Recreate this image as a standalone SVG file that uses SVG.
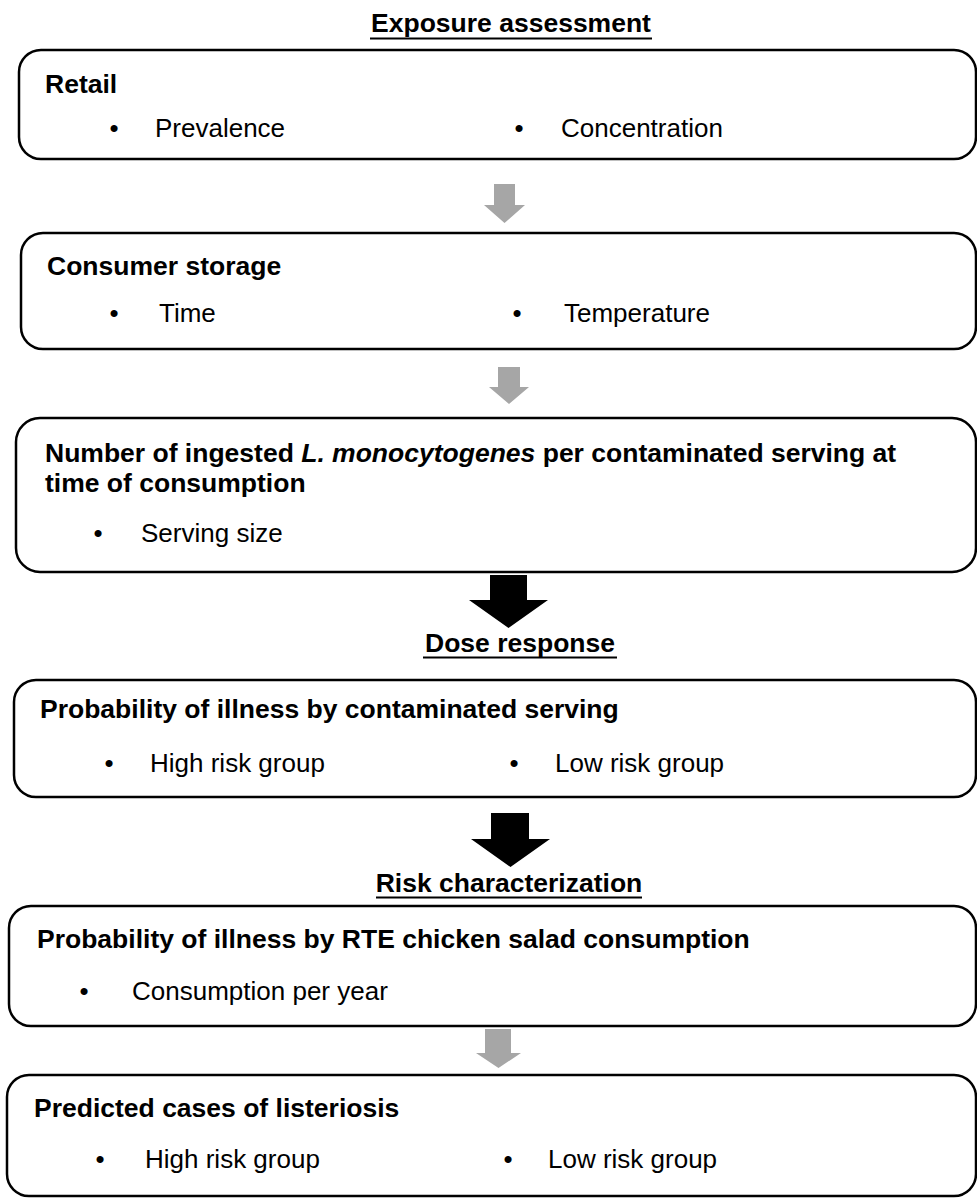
<svg xmlns="http://www.w3.org/2000/svg" width="977" height="1200" viewBox="0 0 977 1200">
<style>
.box{fill:#fff;stroke:#000;stroke-width:2.5}
.t{font-family:"Liberation Sans",Arial,sans-serif;font-size:26px;fill:#000}
.b{font-family:"Liberation Sans",Arial,sans-serif;font-size:26.5px;font-weight:bold;fill:#000}
.h{font-family:"Liberation Sans",Arial,sans-serif;font-size:26.5px;font-weight:bold;fill:#000;text-anchor:middle}
.ul{stroke:#000;stroke-width:2}
.ga{fill:#A6A6A6}
.ka{fill:#000}
</style>
<rect width="977" height="1200" fill="#fff"/>
<g id="headers">
<text class="h" x="511" y="32">Exposure assessment</text>
<line class="ul" x1="370" y1="38.5" x2="652" y2="38.5"/>
<text class="h" x="520" y="652">Dose response</text>
<line class="ul" x1="423" y1="657.5" x2="617" y2="657.5"/>
<text class="h" x="509" y="892">Risk characterization</text>
<line class="ul" x1="376" y1="897.5" x2="642" y2="897.5"/>
</g>
<g id="retail">
<rect class="box" x="19" y="50" width="957" height="109" rx="22"/>
<text class="b" x="45" y="93">Retail</text>
<text class="t" x="109.5" y="137">•</text>
<text class="t" x="155" y="137">Prevalence</text>
<text class="t" x="514.5" y="137">•</text>
<text class="t" x="561" y="137">Concentration</text>
</g>
<g id="consumer-storage">
<rect class="box" x="21" y="233" width="955" height="116" rx="22"/>
<text class="b" x="47" y="275">Consumer storage</text>
<text class="t" x="109.5" y="322">•</text>
<text class="t" x="159" y="322">Time</text>
<text class="t" x="512.5" y="322">•</text>
<text class="t" x="564" y="322">Temperature</text>
</g>
<g id="ingested">
<rect class="box" x="16" y="418" width="960" height="154" rx="24"/>
<text class="b" x="45" y="462">Number of ingested <tspan font-style="italic">L. monocytogenes</tspan> per contaminated serving at</text>
<text class="b" x="45" y="492">time of consumption</text>
<text class="t" x="93.5" y="542">•</text>
<text class="t" x="141" y="542">Serving size</text>
</g>
<g id="dose-response">
<rect class="box" x="14" y="680" width="962" height="117" rx="22"/>
<text class="b" x="40" y="718">Probability of illness by contaminated serving</text>
<text class="t" x="104.5" y="772">•</text>
<text class="t" x="150" y="772">High risk group</text>
<text class="t" x="509.5" y="772">•</text>
<text class="t" x="555" y="772">Low risk group</text>
</g>
<g id="risk-char">
<rect class="box" x="9" y="906" width="967" height="120" rx="22"/>
<text class="b" x="37" y="948">Probability of illness by RTE chicken salad consumption</text>
<text class="t" x="79.5" y="1000">•</text>
<text class="t" x="132" y="1000">Consumption per year</text>
</g>
<g id="predicted-cases">
<rect class="box" x="7" y="1075" width="969" height="121" rx="22"/>
<text class="b" x="34" y="1117">Predicted cases of listeriosis</text>
<text class="t" x="95.5" y="1168">•</text>
<text class="t" x="145" y="1168">High risk group</text>
<text class="t" x="503.5" y="1168">•</text>
<text class="t" x="548" y="1168">Low risk group</text>
</g>
<g id="connectors">
<polygon class="ga" points="494,184 515,184 515,205 525,205 504.5,223 484,205 494,205"/>
<polygon class="ga" points="498,367 520,367 520,387 529,387 509,404 489,387 498,387"/>
<polygon class="ka" points="490,575 527,575 527,600 548,600 508.5,628 469,600 490,600"/>
<polygon class="ka" points="491,813 529,813 529,839 550,839 510.5,867 471,839 491,839"/>
<polygon class="ga" points="485,1029 511,1029 511,1053 521,1053 498.5,1068 476,1053 485,1053"/>
</g>
</svg>
